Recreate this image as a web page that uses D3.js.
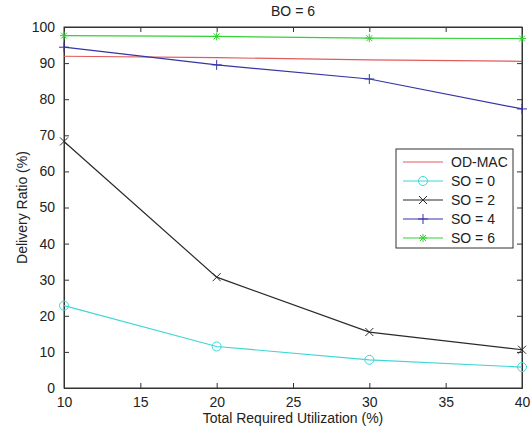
<!DOCTYPE html>
<html><head><meta charset="utf-8">
<script src="https://cdn.jsdelivr.net/npm/d3@7"></script>
<style>body{margin:0;background:#fff}svg{display:block}text{font-family:"Liberation Sans",Arial,sans-serif;fill:#222}</style>
</head><body>
<script>
const xValues = [10, 20, 30, 40];
const odMac = [91.9, 91.5, 90.9, 90.5];
const so0 = [22.8, 11.5, 7.8, 5.8];
const so2 = [68.3, 30.7, 15.5, 10.6];
const so4 = [94.4, 89.5, 85.6, 77.3];
const so6 = [97.6, 97.4, 96.9, 96.8];
const seriesNames = ["OD-MAC", "SO = 0", "SO = 2", "SO = 4", "SO = 6"];
const xTicks = [10, 15, 20, 25, 30, 35, 40];
const yTicks = [0, 10, 20, 30, 40, 50, 60, 70, 80, 90, 100];
const title = "BO = 6";
const xLabel = "Total Required Utilization (%)";
const yLabel = "Delivery Ratio (%)";

const series = [
  {name: seriesNames[0], values: odMac, color: "#e05c5c", marker: "none"},
  {name: seriesNames[1], values: so0, color: "#3fd6d6", marker: "circle"},
  {name: seriesNames[2], values: so2, color: "#2a2a2a", marker: "x"},
  {name: seriesNames[3], values: so4, color: "#3535a5", marker: "plus"},
  {name: seriesNames[4], values: so6, color: "#35d035", marker: "star"}
];

const W = 532, H = 431;
const m = {left: 64, right: 10, top: 27, bottom: 43};
const svg = d3.select("body").append("svg").attr("width", W).attr("height", H);
const x = d3.scaleLinear().domain([10, 40]).range([m.left, W - m.right]);
const y = d3.scaleLinear().domain([0, 100]).range([H - m.bottom, m.top]);
const axisColor = "#333";
const tl = 5;

// box
svg.append("rect").attr("x", x(10)).attr("y", y(100)).attr("width", x(40) - x(10)).attr("height", y(0) - y(100))
  .attr("fill", "none").attr("stroke", axisColor).attr("stroke-width", 1);

// axes with inward ticks
const gx = svg.append("g").attr("transform", `translate(0,${y(0)})`)
  .call(d3.axisBottom(x).tickValues(xTicks).tickSizeInner(-tl).tickSizeOuter(0).tickPadding(9));
const gy = svg.append("g").attr("transform", `translate(${x(10)},0)`)
  .call(d3.axisLeft(y).tickValues(yTicks).tickSizeInner(-tl).tickSizeOuter(0).tickPadding(9));
const gxt = svg.append("g").attr("transform", `translate(0,${y(100)})`)
  .call(d3.axisTop(x).tickValues(xTicks).tickSizeInner(-tl).tickSizeOuter(0).tickFormat(""));
const gyr = svg.append("g").attr("transform", `translate(${x(40)},0)`)
  .call(d3.axisRight(y).tickValues(yTicks).tickSizeInner(-tl).tickSizeOuter(0).tickFormat(""));
[gx, gy, gxt, gyr].forEach(g => {
  g.select(".domain").attr("stroke", axisColor);
  g.selectAll(".tick line").attr("stroke", axisColor);
  g.selectAll(".tick text").attr("font-size", 14).attr("font-family", "Liberation Sans, Arial, sans-serif").attr("fill", "#222");
});

// lines
const line = d3.line().x((d, i) => x(xValues[i])).y(d => y(d));
function drawMarker(g, type, cx, cy, color) {
  const s = 4;
  if (type === "circle") {
    g.append("circle").attr("cx", cx).attr("cy", cy).attr("r", 4.5).attr("fill", "none").attr("stroke", color).attr("stroke-width", 1);
  } else if (type === "x") {
    g.append("path").attr("d", `M${cx-s},${cy-s}L${cx+s},${cy+s}M${cx-s},${cy+s}L${cx+s},${cy-s}`).attr("stroke", color).attr("stroke-width", 1);
  } else if (type === "plus") {
    g.append("path").attr("d", `M${cx-s-1},${cy}L${cx+s+1},${cy}M${cx},${cy-s-1}L${cx},${cy+s+1}`).attr("stroke", color).attr("stroke-width", 1);
  } else if (type === "star") {
    g.append("path").attr("d", `M${cx-s},${cy}L${cx+s},${cy}M${cx},${cy-s}L${cx},${cy+s}M${cx-3},${cy-3}L${cx+3},${cy+3}M${cx-3},${cy+3}L${cx+3},${cy-3}`).attr("stroke", color).attr("stroke-width", 1);
  }
}
series.forEach(s => {
  const g = svg.append("g");
  g.append("path").datum(s.values).attr("d", line).attr("fill", "none").attr("stroke", s.color).attr("stroke-width", 1.2);
  s.values.forEach((v, i) => drawMarker(g, s.marker, x(xValues[i]), y(v), s.color));
});

// title and labels
svg.append("text").attr("x", (x(10) + x(40)) / 2).attr("y", 16).attr("text-anchor", "middle").attr("font-size", 14).text(title);
svg.append("text").attr("x", (x(10) + x(40)) / 2).attr("y", 423).attr("text-anchor", "middle").attr("font-size", 14).text(xLabel);
svg.append("text").attr("transform", `translate(27,${(y(0) + y(100)) / 2}) rotate(-90)`).attr("text-anchor", "middle").attr("font-size", 14).text(yLabel);

// legend
const lg = svg.append("g");
const lx = 396, ly = 149, lw = 117, lh = 99;
lg.append("rect").attr("x", lx).attr("y", ly).attr("width", lw).attr("height", lh).attr("fill", "#fff").attr("stroke", axisColor).attr("stroke-width", 1);
series.forEach((s, i) => {
  const yy = ly + 13 + i * 19;
  lg.append("line").attr("x1", lx + 7).attr("x2", lx + 47).attr("y1", yy).attr("y2", yy).attr("stroke", s.color).attr("stroke-width", 1.2);
  drawMarker(lg, s.marker, lx + 27, yy, s.color);
  lg.append("text").attr("x", lx + 55).attr("y", yy + 5).attr("font-size", 14).text(s.name);
});
</script>
</body></html>
